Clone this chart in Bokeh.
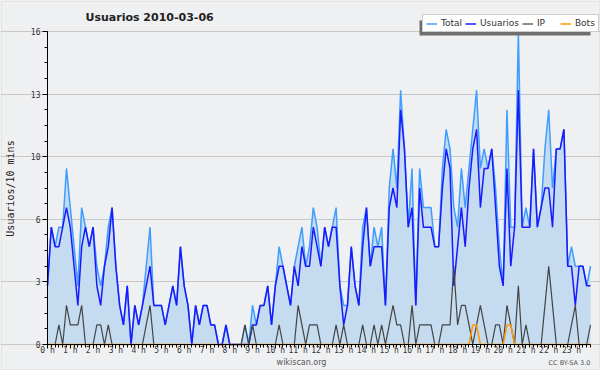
import math
from bokeh.plotting import figure
from bokeh.models import Range1d, FixedTicker, NumeralTickFormatter, Label, Legend, LegendItem, BoxAnnotation
from bokeh.embed import file_html
from bokeh.resources import INLINE

# ---- data (10-minute slots, 144 per day) ----
slots = list(range(144))

usuarios = [
    3, 6, 5, 5, 6, 7, 6, 4, 2, 5, 6, 5,
    6, 3, 2, 4, 5, 7, 4, 2, 1, 3, 0, 2,
    1, 2, 3, 4, 2, 2, 2, 1, 2, 3, 2, 5,
    3, 2, 0, 2, 1, 2, 2, 1, 1, 0, 0, 1,
    0, 0, 0, 0, 0, 0, 1, 1, 2, 2, 3, 1,
    3, 4, 4, 3, 2, 4, 3, 5, 4, 4, 6, 5,
    4, 6, 5, 6, 6, 3, 1, 2, 5, 3, 2, 5,
    7, 4, 5, 5, 5, 2, 7, 8, 7, 12, 10, 6,
    7, 2, 8, 6, 6, 6, 5, 5, 8, 10, 9, 3,
    5, 7, 5, 8, 10, 11, 7, 9, 9, 10, 7, 4,
    3, 9, 4, 6, 13, 6, 6, 6, 10, 6, 7, 8,
    8, 6, 10, 10, 11, 4, 4, 2, 4, 4, 3, 3,
]

ip = [
    0, 0, 0, 1, 0, 2, 1, 1, 1, 2, 0, 0,
    0, 1, 1, 0, 1, 0, 0, 0, 0, 0, 0, 0,
    0, 0, 1, 2, 0, 0, 0, 0, 0, 0, 0, 0,
    0, 0, 0, 0, 0, 0, 0, 0, 0, 0, 0, 0,
    0, 0, 0, 0, 1, 0, 1, 0, 0, 0, 0, 0,
    0, 1, 0, 0, 0, 0, 2, 1, 0, 1, 1, 1,
    0, 0, 0, 0, 1, 0, 1, 0, 0, 0, 0, 1,
    0, 0, 1, 0, 1, 0, 1, 2, 1, 1, 0, 0,
    2, 0, 1, 1, 1, 1, 0, 0, 1, 1, 1, 4,
    1, 2, 2, 1, 0, 1, 2, 1, 0, 0, 1, 1,
    0, 2, 1, 0, 3, 0, 1, 0, 0, 0, 0, 2,
    4, 2, 0, 0, 0, 0, 1, 2, 0, 0, 0, 1,
]

bots = [
    0, 0, 0, 0, 0, 0, 0, 0, 0, 0, 0, 0,
    0, 0, 0, 0, 0, 0, 0, 0, 0, 0, 0, 0,
    0, 0, 0, 0, 0, 0, 0, 0, 0, 0, 0, 0,
    0, 0, 0, 0, 0, 0, 0, 0, 0, 0, 0, 0,
    0, 0, 0, 0, 0, 0, 0, 0, 0, 0, 0, 0,
    0, 0, 0, 0, 0, 0, 0, 0, 0, 0, 0, 0,
    0, 0, 0, 0, 0, 0, 0, 0, 0, 0, 0, 0,
    0, 0, 0, 0, 0, 0, 0, 0, 0, 0, 0, 0,
    0, 0, 0, 0, 0, 0, 0, 0, 0, 0, 0, 0,
    0, 0, 0, 0, 1, 1, 0, 0, 0, 0, 0, 0,
    0, 1, 1, 0, 0, 0, 0, 0, 0, 0, 0, 0,
    0, 0, 0, 0, 0, 0, 0, 0, 0, 0, 0, 0,
]

total = [
    3, 6, 5, 6, 6, 9, 7, 5, 3, 7, 6, 5,
    6, 4, 3, 4, 6, 7, 4, 2, 1, 3, 0, 2,
    1, 2, 4, 6, 2, 2, 2, 1, 2, 3, 2, 5,
    3, 2, 0, 2, 1, 2, 2, 1, 1, 0, 0, 1,
    0, 0, 0, 0, 1, 0, 2, 1, 2, 2, 3, 1,
    3, 5, 4, 3, 2, 4, 5, 6, 4, 5, 7, 6,
    4, 6, 5, 6, 7, 3, 2, 2, 5, 3, 2, 6,
    7, 4, 6, 5, 6, 2, 8, 10, 8, 13, 10, 6,
    9, 2, 9, 7, 7, 7, 5, 5, 9, 11, 10, 7,
    6, 9, 7, 9, 11, 13, 9, 10, 9, 10, 8, 5,
    3, 12, 6, 6, 16, 6, 7, 6, 10, 6, 7, 10,
    12, 8, 10, 10, 11, 4, 5, 4, 4, 4, 3, 4,
]

hour_ticks = [0, 6, 12, 18, 24, 30, 36, 42, 48, 54, 60, 66,
              72, 78, 84, 90, 96, 102, 108, 114, 120, 126, 132, 138]
hour_labels = ["0 h", "1 h", "2 h", "3 h", "4 h", "5 h", "6 h", "7 h",
               "8 h", "9 h", "10 h", "11 h", "12 h", "13 h", "14 h", "15 h",
               "16 h", "17 h", "18 h", "19 h", "20 h", "21 h", "22 h", "23 h"]
y_ticks = [0, 3.2, 6.4, 9.6, 12.8, 16]
y_minor = [0, 0.8, 1.6, 2.4, 3.2, 4.0, 4.8, 5.6, 6.4, 7.2, 8.0, 8.8, 9.6,
           10.4, 11.2, 12.0, 12.8, 13.6, 14.4, 15.2, 16]

# ---- layout constants (pixels) ----
W, H = 600, 370
AX_LEFT, AX_RIGHT, AX_TOP, AX_BOTTOM = 47, 590, 31, 344
X_MAX, Y_MAX = 143, 16
px_x = (AX_RIGHT - AX_LEFT) / X_MAX
px_y = (AX_BOTTOM - AX_TOP) / Y_MAX


def dx(px):
    return (px - AX_LEFT) / px_x


def dy(py):
    return (AX_BOTTOM - py) / px_y


# the frame covers the whole canvas; axes are pinned at 0 with bounds
p = figure(width=W, height=H, output_backend="svg", toolbar_location=None,
           x_range=Range1d(dx(0), dx(W)), y_range=Range1d(dy(H), dy(0)),
           min_border=0, min_border_left=0, min_border_right=0,
           min_border_top=0, min_border_bottom=0)
p.border_fill_color = "#f0f0f0"
p.background_fill_color = "#eff0f2"
p.outline_line_color = None

p.xgrid.visible = False
p.ygrid.grid_line_color = "#c8c8c8"
p.ygrid.grid_line_width = 1
p.ygrid.bounds = (0, X_MAX)

# axes
p.xaxis.fixed_location = 0
p.yaxis.fixed_location = 0
p.xaxis.bounds = (0, X_MAX)
p.yaxis.bounds = (0, Y_MAX)
p.xaxis.ticker = FixedTicker(ticks=hour_ticks, minor_ticks=slots)
p.xaxis.major_label_overrides = dict(zip(hour_ticks, hour_labels))
p.yaxis.ticker = FixedTicker(ticks=y_ticks, minor_ticks=y_minor)
p.yaxis.formatter = NumeralTickFormatter(format="0")
for ax in (p.xaxis[0], p.yaxis[0]):
    ax.axis_line_color = "black"
    ax.major_tick_line_color = "black"
    ax.minor_tick_line_color = "black"
    ax.major_tick_in = 0
    ax.minor_tick_in = 0
    ax.major_label_text_font = "DejaVu Sans Mono"
    ax.major_label_text_font_size = "8px"
    ax.major_label_text_color = "#333333"
p.xaxis.major_tick_out = 4
p.xaxis.minor_tick_out = 3
p.xaxis.major_label_standoff = -3
p.yaxis.major_tick_out = 5
p.yaxis.minor_tick_out = 3
p.yaxis.major_label_standoff = 2

# glyphs
p.varea(x=slots, y1=0, y2=total, fill_color="#c4dbf0", fill_alpha=1)
r_total = p.line(slots, total, line_color="#3f9dff", line_width=1.5)
r_usu = p.line(slots, usuarios, line_color="#1a1aff", line_width=1.5)
r_ip = p.line(slots, ip, line_color="#444444", line_width=1.2)
r_bots = p.line(slots, bots, line_color="#ff9900", line_width=1.5)

# legend shadow (plain box) + legend; location = bottom-left corner from the frame's bottom-left
p.add_layout(BoxAnnotation(left=dx(419), right=dx(590), top=dy(20), bottom=dy(35),
                           fill_color="#6e6e6e", fill_alpha=1, line_color=None))
legend = Legend(items=[LegendItem(label="Total", renderers=[r_total]),
                       LegendItem(label="Usuarios", renderers=[r_usu]),
                       LegendItem(label="IP", renderers=[r_ip]),
                       LegendItem(label="Bots", renderers=[r_bots])],
                location=(422, H - 32), orientation="horizontal", padding=3, spacing=3,
                glyph_width=11, glyph_height=9, label_height=9, label_standoff=4, margin=0,
                label_text_font="DejaVu Sans", label_text_font_size="9px",
                label_text_color="#333333", background_fill_color="white",
                background_fill_alpha=1, border_line_color="#999999")
p.add_layout(legend)

# title
p.add_layout(Label(x=dx(85), y=dy(17), text="Usuarios  2010-03-06", text_font="DejaVu Sans",
                   text_font_style="bold", text_font_size="11px", text_color="#222222",
                   text_baseline="middle", text_align="left"))
# y axis title
p.add_layout(Label(x=dx(10), y=dy(188), text="Usuarios/10 mins", angle=math.pi / 2,
                   text_font="DejaVu Sans Mono", text_font_size="10px", text_color="#222222",
                   text_align="center", text_baseline="middle"))
# footer
p.add_layout(Label(x=dx(301), y=dy(361.5), text="wikiscan.org", text_font="DejaVu Sans",
                   text_font_size="8px", text_color="#555555",
                   text_align="center", text_baseline="middle"))
p.add_layout(Label(x=dx(569), y=dy(362), text="CC BY-SA 3.0", text_font="DejaVu Sans",
                   text_font_size="6.5px", text_color="#555555",
                   text_align="center", text_baseline="middle"))

# outer border of the image
p.add_layout(BoxAnnotation(left=dx(0.5), right=dx(W - 0.5), top=dy(0.5), bottom=dy(H - 0.5),
                           fill_alpha=0, line_color="#a8a8a8", line_width=1))

open("out.html", "w").write(file_html(p, INLINE))
